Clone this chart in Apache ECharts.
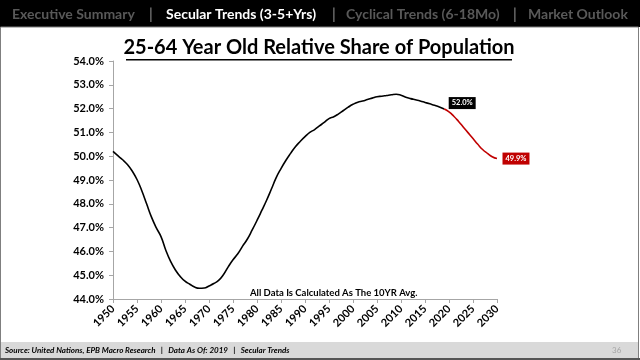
<!DOCTYPE html>
<html><head><meta charset="utf-8">
<script src="https://cdn.jsdelivr.net/npm/echarts@6/dist/echarts.min.js"></script>
<style>html,body{margin:0;padding:0;background:#fff}#c{width:640px;height:360px}</style>
</head><body><div id="c"></div>
<script>
const years = [];
for (let y = 1950; y <= 2030; y++) years.push(String(y));
const shareValues = [
 50.20,50.02,49.85,49.65,49.38,49.02,48.55,48.00,47.45,47.00,
 46.62,46.05,45.58,45.22,44.95,44.75,44.62,44.50,44.45,44.46,
 44.55,44.65,44.78,45.02,45.35,45.65,45.90,46.22,46.52,46.90,
 47.30,47.72,48.15,48.62,49.10,49.48,49.82,50.12,50.40,50.62,
 50.82,51.00,51.12,51.27,51.42,51.58,51.66,51.78,51.92,52.06,
 52.18,52.27,52.32,52.38,52.44,52.50,52.52,52.55,52.58,52.60,
 52.56,52.48,52.42,52.37,52.32,52.26,52.20,52.14,52.07,51.98,
 51.86,51.68,51.46,51.22,50.98,50.74,50.50,50.28,50.12,49.98,
 49.90
];
const splitYear = '2019';
const lastLabel = '49.9%';
const splitLabel = '52.0%';
const navItems = ['Executive Summary','Secular Trends (3-5+Yrs)','Cyclical Trends (6-18Mo)','Market Outlook'];
const titleText = '25-64 Year Old Relative Share of Population';
const noteText = 'All Data Is Calculated As The 10YR Avg.';
const footerText = 'Source: United Nations, EPB Macro Research   |   Data As Of: 2019   |   Secular Trends';
const pageNum = '36';

const si = years.indexOf(splitYear);
const histData = shareValues.map((v,i)=> i<=si ? v : null);
const projData = shareValues.map((v,i)=> i>=si ? v : null);

const chart = echarts.init(document.getElementById('c'));
const font = 'Lato, "Open Sans", sans-serif';
const navX = [12,166,346,528];
const sepX = [149,332,513];
const graphics = [
  {type:'rect', shape:{x:0,y:0,width:640,height:27}, style:{fill:'#000'}, z:0},
  {type:'rect', shape:{x:0.5,y:27,width:638,height:331}, style:{fill:'none',stroke:'#7f7f7f',lineWidth:1}, z:0},
  {type:'rect', shape:{x:1,y:342,width:637,height:16}, style:{fill:'#d9d9d9'}, z:0},
  {type:'rect', shape:{x:0,y:358,width:640,height:2}, style:{fill:'#555'}, z:0},
];
navItems.forEach((t,i)=>{
  graphics.push({type:'text', x:navX[i], y:14, style:{text:t, fill: i===1?'#fff':'#595959', font:'bold 14px '+font, verticalAlign:'middle'}});
});
sepX.forEach(x=>graphics.push({type:'text', x:x, y:14, style:{text:'|', fill:'#8c8c8c', font:'15px '+font, verticalAlign:'middle'}}));
graphics.push({type:'text', x:319, y:48, style:{text:titleText, fill:'#000', font:'bold 20px '+font, align:'center', verticalAlign:'middle'}});
graphics.push({type:'rect', shape:{x:126,y:59,width:386,height:1.5}, style:{fill:'#000'}});
graphics.push({type:'text', x:250, y:293, style:{text:noteText, fill:'#000', font:'bold 9.5px '+font, align:'left', verticalAlign:'middle'}});
graphics.push({type:'text', x:5, y:350, style:{text:footerText, fill:'#000', font:'italic bold 8px '+font, verticalAlign:'middle'}});
graphics.push({type:'text', x:612, y:350, style:{text:pageNum, fill:'#a6a6a6', font:'8px '+font, verticalAlign:'middle'}});

chart.setOption({
  animation:false,
  grid:{left:113, right:143, top:61, bottom:61},
  xAxis:{type:'category', data:years, boundaryGap:false,
    axisLine:{lineStyle:{color:'#a6a6a6'}},
    axisTick:{interval:4, length:4, lineStyle:{color:'#a6a6a6'}},
    axisLabel:{interval:4, rotate:45, color:'#000', fontWeight:'bold', fontSize:11, fontFamily:font, margin:8},
    splitLine:{show:false}},
  yAxis:{type:'value', min:44, max:54, interval:1,
    axisLine:{show:true, lineStyle:{color:'#a6a6a6'}},
    axisTick:{show:true, length:4, lineStyle:{color:'#a6a6a6'}},
    axisLabel:{formatter:v=>v.toFixed(1)+'%', color:'#000', fontWeight:'bold', fontSize:11, fontFamily:font, margin:9},
    splitLine:{show:false}},
  graphic:graphics,
  series:[
    {type:'line', data:histData, smooth:true, symbol:'none', lineStyle:{color:'#000', width:1.6}, connectNulls:false,
     markPoint:{symbol:'rect', symbolSize:1, itemStyle:{color:'transparent'}, data:[{coord:[splitYear, shareValues[si]],
       label:{show:true, formatter:splitLabel, position:'right', offset:[-1,-6], color:'#fff', backgroundColor:'#000', fontSize:7.5, fontWeight:'bold', fontFamily:font, padding:[2,3]}}]}},
    {type:'line', data:projData, smooth:true, symbol:'none', lineStyle:{color:'#c00000', width:1.6},
     markPoint:{symbol:'rect', symbolSize:1, itemStyle:{color:'transparent'}, data:[{coord:['2030', shareValues[shareValues.length-1]],
       label:{show:true, formatter:lastLabel, position:'right', offset:[0,0], color:'#fff', backgroundColor:'#c00000', fontSize:7.5, fontWeight:'bold', fontFamily:font, padding:[2,3]}}]}}
  ]
});
</script></body></html>
